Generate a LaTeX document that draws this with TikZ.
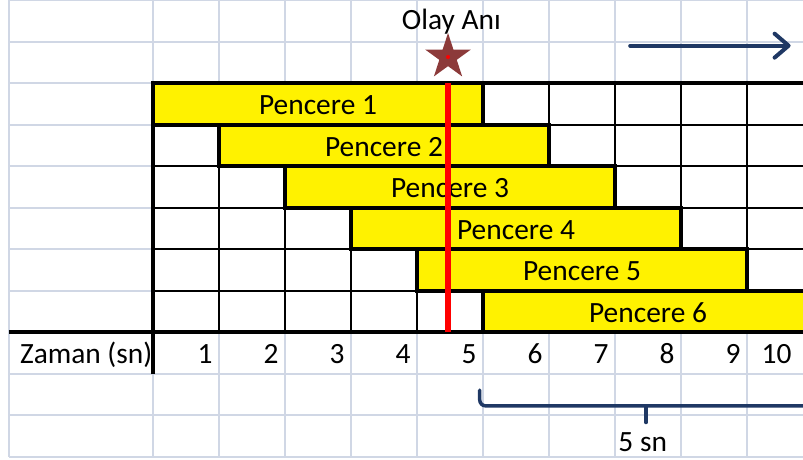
\documentclass[tikz,border=0pt]{standalone}
\usepackage{fontspec}
\setmainfont{Carlito}
\usetikzlibrary{shapes.geometric,arrows.meta}
\definecolor{cellgrey}{RGB}{208,215,229}
\definecolor{starbrown}{RGB}{140,58,58}
\definecolor{navy}{RGB}{31,56,100}
\tikzset{
  cellline/.style={draw=cellgrey, line width=1pt},
  chartline/.style={draw=black, line width=1pt},
  window/.style={fill=yellow, draw=black, line width=2pt},
  frame/.style={draw=black, line width=2pt},
  cellnum/.style={anchor=base east},
  marker/.style={draw=navy, line width=2pt, line cap=round},
}

\begin{document}
\begin{tikzpicture}[x=33pt, y=-20.75pt, font=\fontsize{14.7}{17}\selectfont]
  % visible part of the sheet, it runs on past the right edge
  \clip (-2.318,0) rectangle (9.848,11.06);
  % sheet grid
  \foreach \r in {0,...,11}
    \draw[cellline] (-2.182,\r) -- (10,\r);
  \foreach \c in {-2.182,0,1,...,10}
    \draw[cellline] (\c,0) -- (\c,11);
  % chart cells
  \fill[white] (0,2) rectangle (10,8);
  \foreach \r in {3,...,7}
    \draw[chartline] (0,\r) -- (10,\r);
  \foreach \c in {1,...,9}
    \draw[chartline] (\c,2) -- (\c,8);
  % the six windows, each five seconds long
  \foreach \i in {1,...,6}
    \draw[window] (\i-1,\i+1) rectangle (\i+4,\i+2);
  \foreach \i in {1,...,6}
    \node[anchor=base] (win\i) at (\i+1.5,\i+1.76) {Pencere \i};
  % chart frame
  \draw[frame] (0,9) -- (0,2) -- (10,2);
  \draw[frame] (-2.182,8) -- (10,8);

  % time axis
  \node[anchor=base west] (zaman) at (-2.12,8.77) {Zaman (sn)};
  \foreach \t in {1,...,9}
    \node[cellnum] (t\t) at (\t+0.01,8.77) {\t};
  \node[cellnum] (t10) at (9.78,8.77) {10};

  % event moment
  \coordinate (cuttop) at (4.47,2);
  \coordinate (cutbottom) at (4.47,8);
  \draw[red, line width=3.3pt] (cuttop) -- (cutbottom);
  \node[star, star points=5, star point ratio=2.618, minimum size=24pt,
        inner sep=0pt, fill=starbrown] (olay) at (4.47,1.373) {};
  \fill[red] (olay.center) circle (1pt);
  \node[anchor=base] (olaytext) at (4.52,0.72) {Olay Anı};

  % direction of time
  \coordinate (dirstart) at (7.23,1.1);
  \coordinate (dirend) at (9.66,1.1);
  \draw[marker, -{Straight Barb[length=7pt,width=12pt,round]}] (dirstart) -- (dirend);

  % five second span
  \coordinate (spanleft) at (4.95,9.4);
  \coordinate (spancorner) at (4.95,9.78);
  \coordinate (spanright) at (10,9.78);
  \coordinate (spanmid) at (7.47,9.78);
  \coordinate (spantip) at (7.47,10.18);
  \draw[marker, line width=1.75pt, rounded corners=3pt] (spanleft) -- (spancorner) -- (spanright);
  \draw[marker, line width=1.75pt] (spanmid) -- (spantip);
  \node[anchor=base] (spantext) at (7.42,10.89) {5 sn};
\end{tikzpicture}
\end{document}
